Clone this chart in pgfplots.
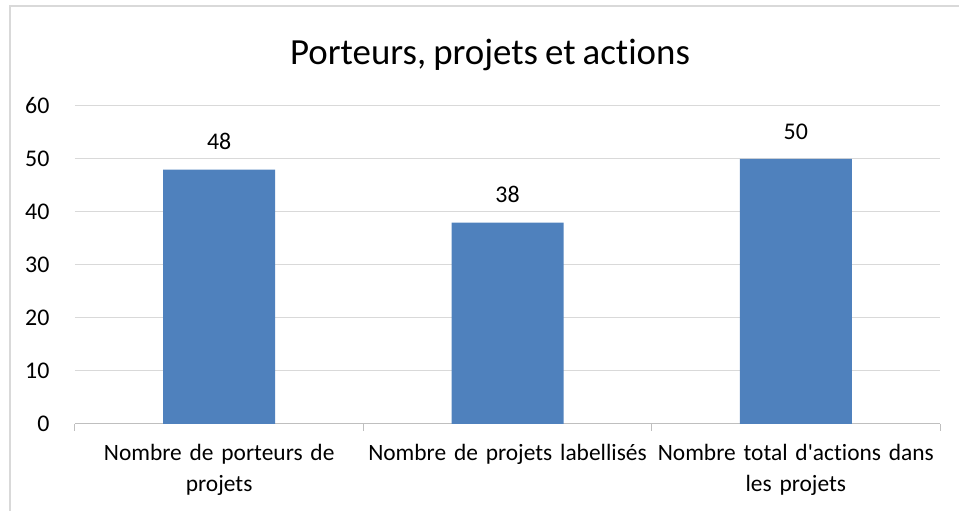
\documentclass[border=0pt]{standalone}
\usepackage{pgfplots}
\pgfplotsset{compat=1.18}
\usepackage{fontspec}
\setmainfont{Carlito}[Ligatures=NoCommon, WordSpace=0.85]
\definecolor{barblue}{HTML}{4F81BD}
\definecolor{gridgray}{HTML}{D9D9D9}
\definecolor{axisgray}{HTML}{BFBFBF}
\definecolor{framegray}{HTML}{D9D9D9}
\begin{document}
\begin{tikzpicture}[x=1bp,y=1bp]
\useasboundingbox (0,0) rectangle (959,511);
\draw[framegray,line width=1.2bp] (10,0) -- (10,505) -- (959,505);
\node[font=\fontsize{37}{42}\selectfont] at (490,456) {Porteurs, projets et actions};
\begin{axis}[
  at={(75bp,87bp)}, anchor=south west,
  scale only axis, width=865bp, height=318bp,
  xmin=-0.5, xmax=2.5, ymin=0, ymax=60,
  ytick={0,10,...,60},
  xtick={-0.5,0.5,1.5,2.5},
  xticklabels={},
  major tick length=7bp,
  xtick style={axisgray, line width=1bp},
  xtick pos=bottom, xtick align=outside,
  extra x ticks={0,1,2},
  extra x tick labels={{Nombre de porteurs de\\projets},{Nombre de projets labellisés},{Nombre total d\textquotesingle{}actions dans\\les projets}},
  extra x tick style={major tick length=0pt, grid=none, tick style={draw=none}},
  x tick label style={align=center, font=\fontsize{23.5}{31}\selectfont, text width=300bp, yshift=-17bp},
  y tick label style={font=\fontsize{24}{28}\selectfont, xshift=-22bp},
  /pgf/number format/assume math mode=true,
  ymajorgrids, grid style={gridgray, line width=1bp},
  ytick style={draw=none},
  axis x line*=bottom,
  axis y line*=left,
  y axis line style={draw=none},
  x axis line style={axisgray, line width=1bp, -},
  ybar, bar width=112bp,
  nodes near coords,
  every node near coord/.append style={font=\fontsize{24}{28}\selectfont, black, yshift=16bp},
  clip=false,
]
\addplot[fill=barblue, draw=none] coordinates {(0,48) (1,38) (2,50)};
\end{axis}
\end{tikzpicture}
\end{document}
